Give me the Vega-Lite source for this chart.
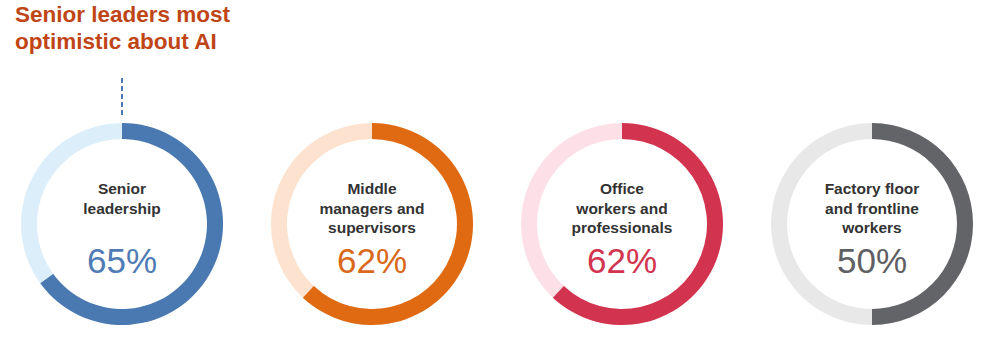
{
  "$schema": "https://vega.github.io/schema/vega-lite/v6.json",
  "autosize": {"type": "pad"},
  "padding": {"left": 0, "top": 4, "right": 0, "bottom": 0},
  "background": "white",
  "title": {
    "text": ["Senior leaders most", "optimistic about AI"],
    "anchor": "start",
    "dx": 15,
    "font": "Liberation Sans",
    "fontSize": 22.5,
    "fontWeight": "bold",
    "color": "#bf4516",
    "lineHeight": 27,
    "offset": 23
  },
  "data": {
    "values": [
      {"group": "Senior leadership", "label": "Senior\nleadership", "pct": 0.65},
      {"group": "Middle managers and supervisors", "label": "Middle\nmanagers and\nsupervisors", "pct": 0.62},
      {"group": "Office workers and professionals", "label": "Office\nworkers and\nprofessionals", "pct": 0.62},
      {"group": "Factory floor and frontline workers", "label": "Factory floor\nand frontline\nworkers", "pct": 0.5}
    ]
  },
  "facet": {
    "column": {
      "field": "group",
      "type": "nominal",
      "header": null,
      "sort": ["Senior leadership", "Middle managers and supervisors", "Office workers and professionals", "Factory floor and frontline workers"]
    }
  },
  "spacing": 6,
  "spec": {
    "width": 244,
    "height": 240,
    "layer": [
      {
        "mark": {"type": "arc", "innerRadius": 85, "outerRadius": 101, "theta": 0, "theta2": 6.2832},
        "encoding": {
          "color": {
            "field": "group",
            "type": "nominal",
            "scale": {
              "domain": ["Senior leadership", "Middle managers and supervisors", "Office workers and professionals", "Factory floor and frontline workers"],
              "range": ["#ddeefb", "#fde3cf", "#fde0e7", "#e8e8e8"]
            },
            "legend": null
          }
        }
      },
      {
        "mark": {"type": "arc", "innerRadius": 85, "outerRadius": 101},
        "encoding": {
          "theta": {"field": "pct", "type": "quantitative", "scale": {"domain": [0, 1], "range": [0, 6.283185]}},
          "color": {
            "field": "group",
            "type": "nominal",
            "scale": {
              "domain": ["Senior leadership", "Middle managers and supervisors", "Office workers and professionals", "Factory floor and frontline workers"],
              "range": ["#4a78b0", "#e06a12", "#d2334e", "#636468"]
            },
            "legend": null
          }
        }
      },
      {
        "mark": {"type": "text", "lineBreak": "\n", "font": "Liberation Sans", "fontSize": 15.5, "fontWeight": "bold", "color": "#333333", "baseline": "middle", "align": "center", "lineHeight": 19.5},
        "encoding": {
          "text": {"field": "label", "type": "nominal"},
          "x": {"datum": 0, "type": "quantitative", "scale": {"domain": [-1, 1], "nice": false, "zero": false}, "axis": null},
          "y": {"datum": 0.29, "type": "quantitative", "scale": {"domain": [-1, 1], "nice": false, "zero": false}, "axis": null}
        }
      },
      {
        "mark": {"type": "text", "font": "Liberation Sans", "fontSize": 35, "baseline": "alphabetic", "align": "center"},
        "encoding": {
          "text": {"field": "pct", "type": "quantitative", "format": ".0%"},
          "x": {"datum": 0, "type": "quantitative", "axis": null},
          "y": {"datum": -0.408, "type": "quantitative", "axis": null},
          "color": {
            "field": "group",
            "type": "nominal",
            "scale": {
              "domain": ["Senior leadership", "Middle managers and supervisors", "Office workers and professionals", "Factory floor and frontline workers"],
              "range": ["#4f7cb5", "#d9681a", "#d2334e", "#5f6064"]
            },
            "legend": null
          }
        }
      },
      {
        "transform": [{"filter": "datum.group === 'Senior leadership'"}],
        "mark": {"type": "rule", "color": "#4a78b0", "strokeWidth": 2, "strokeDash": [5, 3]},
        "encoding": {
          "x": {"datum": 0, "type": "quantitative", "axis": null},
          "y": {"datum": 1.217, "type": "quantitative", "axis": null},
          "y2": {"datum": 0.892}
        }
      }
    ],
    "resolve": {"scale": {"color": "independent"}}
  },
  "config": {"view": {"stroke": null}}
}
